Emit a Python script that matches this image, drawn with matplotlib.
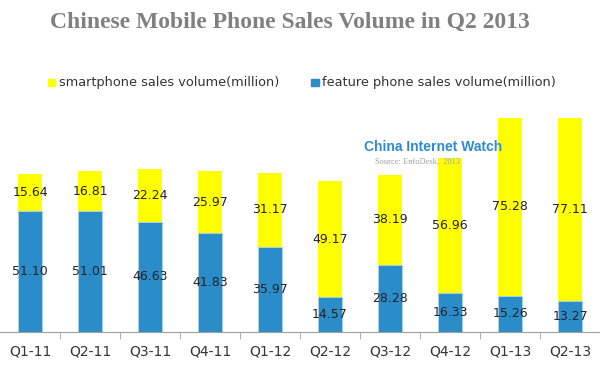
import matplotlib
matplotlib.use("Agg")
import matplotlib.pyplot as plt
from matplotlib.patches import Rectangle

quarters = ["Q1-11", "Q2-11", "Q3-11", "Q4-11", "Q1-12", "Q2-12", "Q3-12", "Q4-12", "Q1-13", "Q2-13"]
feature = [51.10, 51.01, 46.63, 41.83, 35.97, 14.57, 28.28, 16.33, 15.26, 13.27]
smart = [15.64, 16.81, 22.24, 25.97, 31.17, 49.17, 38.19, 56.96, 75.28, 77.11]

blue = "#2B8CCA"
yellow = "#FFFF00"

fig = plt.figure(figsize=(6, 3.79), dpi=100)
ax = fig.add_axes([0.0, 0.124, 1.0, 0.625])
x = range(len(quarters))
w = 0.41
ax.bar(x, feature, width=w, color=blue, edgecolor="#A9D2EE", linewidth=0.6)
ax.bar(x, smart, width=w, bottom=feature, color=yellow, edgecolor="none")
for i in x:
    ax.text(i, feature[i] / 2, f"{feature[i]:.2f}", ha="center", va="center", fontsize=9, color="#222222")
    ax.text(i, feature[i] + smart[i] / 2, f"{smart[i]:.2f}", ha="center", va="center", fontsize=9, color="#222222")

ax.set_xlim(-0.5, 9.5)
ax.set_ylim(0, 100)
ax.set_yticks([])
for s in ["top", "right", "left"]:
    ax.spines[s].set_visible(False)
ax.spines["bottom"].set_color("#A0A0A0")
ax.set_xticks(list(x))
ax.set_xticklabels(quarters, fontsize=10, color="#333333")
ax.tick_params(axis="x", length=0, pad=9)
ax.set_xticks([i + 0.5 for i in range(len(quarters) - 1)], minor=True)
ax.tick_params(axis="x", which="minor", length=5, color="#A0A0A0")

fig.text(0.483, 0.94, "Chinese Mobile Phone Sales Volume in Q2 2013", ha="center", va="center",
         fontsize=17, fontweight="bold", family="Liberation Serif", color="#808080")

# legend
fig.patches.append(Rectangle((0.08, 0.772), 0.012, 0.02, transform=fig.transFigure, color=yellow))
fig.text(0.099, 0.782, "smartphone sales volume(million)", va="center", fontsize=9.3, color="#333333")
fig.patches.append(Rectangle((0.519, 0.772), 0.012, 0.02, transform=fig.transFigure, color=blue))
fig.text(0.536, 0.782, "feature phone sales volume(million)", va="center", fontsize=9.3, color="#333333")

# watermark
fig.text(0.607, 0.612, "China Internet Watch", fontsize=10, fontweight="bold", color="#2E8BCF",
         family="Liberation Sans", va="center")
fig.text(0.625, 0.572, "Source: EnfoDesk,  2013", fontsize=6, color="#A0A0A0", family="Liberation Serif", va="center")

fig.savefig("out.png", dpi=100, facecolor="white")
